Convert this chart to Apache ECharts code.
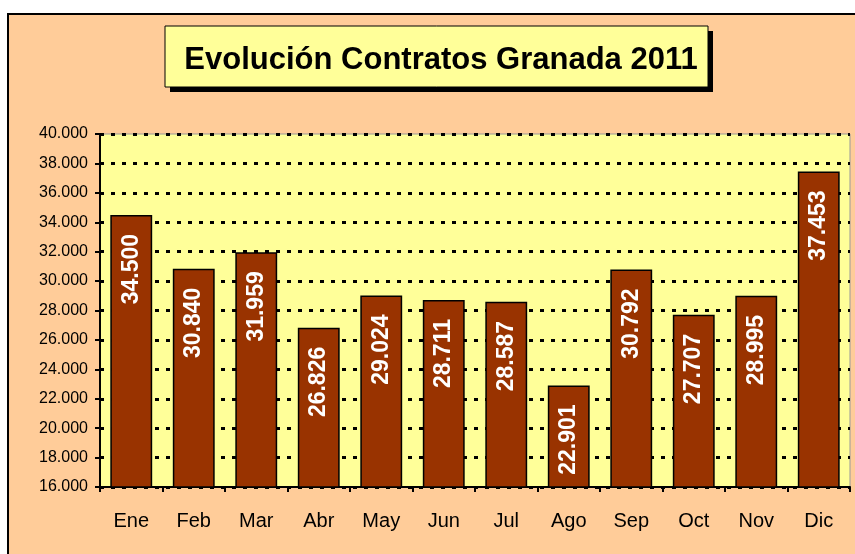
<!DOCTYPE html>
<html>
<head>
    <meta charset="UTF-8">
    <title>Evolución Contratos Granada 2011</title>
    <script src="https://cdn.jsdelivr.net/npm/echarts@6/dist/echarts.min.js"></script>
    <style>
        html, body { margin: 0; padding: 0; background: #ffffff; }
    </style>
</head>
<body>
<div id="chart" style="width: 855px;height:554px;"></div>
<script type="text/javascript">
    // datos
    var meses = ['Ene', 'Feb', 'Mar', 'Abr', 'May', 'Jun', 'Jul', 'Ago', 'Sep', 'Oct', 'Nov', 'Dic'];
    var contratos = [34500, 30840, 31959, 26826, 29024, 28711, 28587, 22901, 30792, 27707, 28995, 37453];
    var ejeMin = 16000;
    var ejeMax = 40000;
    var ejePaso = 2000;

    // 40000 -> "40.000"
    function miles(v) {
        return String(Math.round(v)).replace(/\B(?=(\d{3})+(?!\d))/g, '.');
    }

    var chart = echarts.init(document.getElementById('chart'));

    var option = {
        backgroundColor: '#ffffff',
        animation: false,
        textStyle: { fontFamily: 'Liberation Sans, Arial, sans-serif' },
        graphic: [
            {
                type: 'rect', z: -10, silent: true,
                shape: { x: 8, y: 14, width: 860, height: 560 },
                style: { fill: '#FFCC99', stroke: '#000000', lineWidth: 2 }
            },
            {
                type: 'rect', z: -9, silent: true,
                shape: { x: 170, y: 31, width: 543, height: 61 },
                style: { fill: '#000000' }
            },
            {
                type: 'rect', z: -8, silent: true,
                shape: { x: 165, y: 26, width: 543, height: 61 },
                style: { fill: '#FFFF99', stroke: '#000000', lineWidth: 1 }
            }
        ],
        title: {
            text: 'Evolución Contratos Granada 2011',
            left: 436,
            top: 40,
            textAlign: 'center',
            textStyle: {
                fontFamily: 'Liberation Sans, Arial, sans-serif',
                fontSize: 31,
                fontWeight: 'bold',
                color: '#000000'
            }
        },
        grid: {
            left: 100,
            right: 5,
            top: 134,
            bottom: 67,
            show: true,
            backgroundColor: '#FFFF99',
            borderColor: '#999999',
            borderWidth: 1
        },
        xAxis: {
            type: 'category',
            data: meses,
            axisLine: { lineStyle: { color: '#000000', width: 2 } },
            axisTick: { show: true, length: 5, lineStyle: { color: '#000000', width: 2 } },
            axisLabel: {
                margin: 24,
                fontSize: 20,
                color: '#000000',
                fontFamily: 'Liberation Sans, Arial, sans-serif'
            }
        },
        yAxis: {
            type: 'value',
            min: ejeMin,
            max: ejeMax,
            interval: ejePaso,
            axisLine: { show: true, lineStyle: { color: '#000000', width: 2 } },
            axisTick: { show: true, length: 5, lineStyle: { color: '#000000', width: 2 } },
            axisLabel: {
                margin: 12,
                fontSize: 16,
                color: '#000000',
                formatter: miles,
                fontFamily: 'Liberation Sans, Arial, sans-serif'
            },
            splitLine: {
                lineStyle: { color: '#000000', width: 3, type: [4, 7] }
            }
        },
        series: [
            {
                name: 'Contratos',
                type: 'bar',
                data: contratos,
                barCategoryGap: '33%',
                itemStyle: { color: '#993300', borderColor: '#000000', borderWidth: 1.5 },
                label: {
                    show: true,
                    position: 'insideTop',
                    distance: 19,
                    rotate: 90,
                    align: 'right',
                    verticalAlign: 'middle',
                    formatter: function (p) { return miles(p.value); },
                    color: '#ffffff',
                    fontSize: 23,
                    fontWeight: 'bold',
                    fontFamily: 'Liberation Sans, Arial, sans-serif'
                }
            }
        ]
    };

    chart.setOption(option);
</script>
</body>
</html>
